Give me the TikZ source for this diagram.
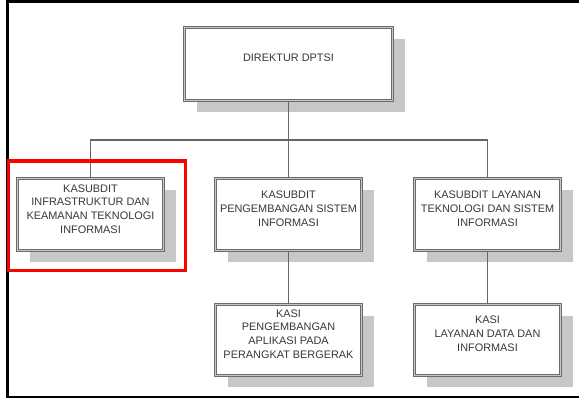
\documentclass[tikz,border=0pt]{standalone}
\usepackage{fontspec}
\setmainfont{Liberation Sans}
\usetikzlibrary{shadows}

\tikzset{
  orgbox/.style={
    rectangle, inner sep=0pt, fill=white,
    draw=black!58, line width=0.9pt, double=black!22, double distance=1.1pt,
    minimum width=146pt, minimum height=72pt,
    drop shadow={shadow xshift=12pt, shadow yshift=-12pt, fill=black!22, opacity=1}
  },
  boxtext/.style={
    inner sep=0pt, align=center, text=black!78,
    font=\fontsize{10.9}{13.8}\selectfont
  },
  conn/.style={draw=black!60, line width=1.1pt},
  frameline/.style={draw=black, line width=2.7pt},
  marker/.style={draw=red, line width=3.5pt}
}

\begin{document}
\begin{tikzpicture}[x=1pt, y=-1pt]
  \useasboundingbox (0,0) rectangle (579,398);

  % outer frame (open on the right)
  \draw[frameline] (579,1.7) -- (7.3,1.7) -- (7.3,397) -- (579,397);

  % boxes
  \node[orgbox, minimum width=208pt, minimum height=73pt] (dir) at (288.5,64) {};
  \node[orgbox] (ka) at (90.5,214.5) {};
  \node[orgbox] (kb) at (288.5,214.5) {};
  \node[orgbox] (kc) at (487.5,214.5) {};
  \node[orgbox, minimum height=71pt] (kb1) at (288.5,340) {};
  \node[orgbox, minimum height=71pt] (kc1) at (487.5,340) {};

  % box labels
  \node[boxtext] (dir-t) at ([yshift=-31pt]dir.north) {DIREKTUR DPTSI};
  \node[boxtext] (ka-t) at ([yshift=-31pt]ka.north) {KASUBDIT\\INFRASTRUKTUR DAN\\KEAMANAN TEKNOLOGI\\INFORMASI};
  \node[boxtext] (kb-t) at ([yshift=-30.5pt]kb.north) {KASUBDIT\\PENGEMBANGAN SISTEM\\INFORMASI};
  \node[boxtext] (kc-t) at ([yshift=-30.5pt]kc.north) {KASUBDIT LAYANAN\\TEKNOLOGI DAN SISTEM\\INFORMASI};
  \node[boxtext] (kb1-t) at ([yshift=-30pt]kb1.north) {KASI\\PENGEMBANGAN\\APLIKASI PADA\\PERANGKAT BERGERAK};
  \node[boxtext] (kc1-t) at ([yshift=-29.5pt]kc1.north) {KASI\\LAYANAN DATA DAN\\INFORMASI};

  % connectors
  \coordinate (bus) at (288.5,140);
  \draw[conn] (dir.south) -- (bus);
  \draw[conn] (ka.north) |- (bus) -| (kc.north);
  \draw[conn] (bus) -- (kb.north);
  \draw[conn] (kb.south) -- (kb1.north);
  \draw[conn] (kc.south) -- (kc1.north);

  % highlight
  \draw[marker] (8.7,161) rectangle (185.5,270.5);
\end{tikzpicture}
\end{document}
